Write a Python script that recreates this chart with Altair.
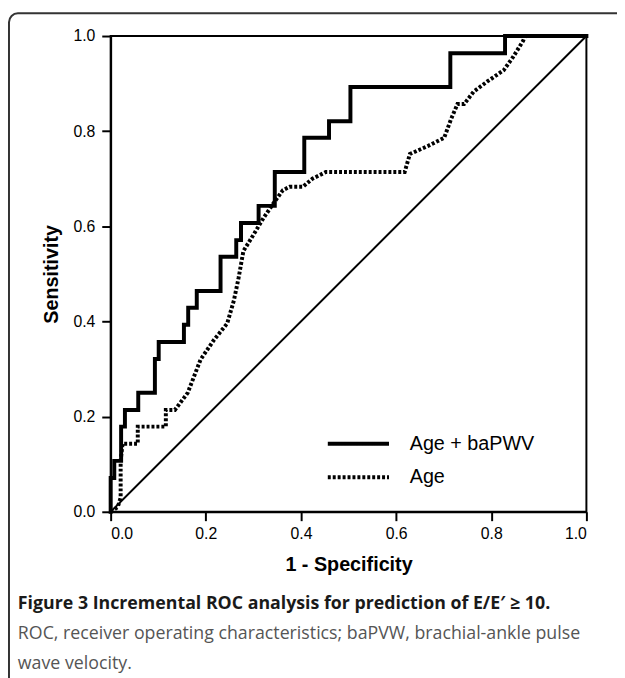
import altair as alt
import pandas as pd

# ROC curve: Age + baPWV (step curve; each point = where the curve rises)
combo_fpr = [0.0, 0.0, 0.0076, 0.022, 0.030, 0.058, 0.093, 0.101, 0.154, 0.163, 0.181,
             0.231, 0.264, 0.274, 0.311, 0.345, 0.407, 0.459, 0.504, 0.714, 0.829, 1.0]
combo_tpr = [0.0, 0.071, 0.107, 0.179, 0.214, 0.25, 0.321, 0.357, 0.393, 0.429, 0.464,
             0.536, 0.571, 0.607, 0.643, 0.714, 0.786, 0.821, 0.893, 0.964, 1.0, 1.0]

# ROC curve: Age
age_fpr = [0.0, 0.015, 0.021, 0.021, 0.025, 0.057, 0.057, 0.116, 0.116, 0.135, 0.162,
           0.189, 0.217, 0.245, 0.259, 0.269, 0.279, 0.300, 0.321, 0.342, 0.362, 0.376,
           0.404, 0.424, 0.452, 0.618, 0.629, 0.667, 0.701, 0.715, 0.729, 0.743, 0.763,
           0.791, 0.826, 0.846, 0.867, 0.871, 1.0]
age_tpr = [0.0, 0.01, 0.03, 0.107, 0.143, 0.143, 0.179, 0.179, 0.214, 0.214, 0.25,
           0.32, 0.361, 0.396, 0.444, 0.492, 0.548, 0.582, 0.617, 0.648, 0.676, 0.683,
           0.683, 0.70, 0.714, 0.714, 0.752, 0.769, 0.786, 0.824, 0.857, 0.857, 0.883,
           0.904, 0.928, 0.956, 0.99, 1.0, 1.0]

diag_x = [0.0, 1.0]
diag_y = [0.0, 1.0]

series_names = ["Age + baPWV", "Age"]
tick_values = [0.0, 0.2, 0.4, 0.6, 0.8, 1.0]

caption_title = "Figure 3 Incremental ROC analysis for prediction of E/E\u2032 \u2265 10."
caption_lines = ["ROC, receiver operating characteristics; baPVW, brachial-ankle pulse",
                 "wave velocity."]

combo_df = pd.DataFrame({"fpr": combo_fpr, "tpr": combo_tpr,
                         "series": series_names[0], "idx": range(len(combo_fpr))})
age_df = pd.DataFrame({"fpr": age_fpr, "tpr": age_tpr,
                       "series": series_names[1], "idx": range(len(age_fpr))})
diag_df = pd.DataFrame({"fpr": diag_x, "tpr": diag_y})

xscale = alt.Scale(domain=[0, 1], nice=False, zero=False)
yscale = alt.Scale(domain=[0, 1], nice=False, zero=False)

X = alt.X("fpr:Q", scale=xscale,
          axis=alt.Axis(values=tick_values, format=".1f", title="1 - Specificity",
                        labelPadding=5, titlePadding=13))
Y = alt.Y("tpr:Q", scale=yscale,
          axis=alt.Axis(values=tick_values, format=".1f", title="Sensitivity",
                        labelPadding=7, titlePadding=12))

dash = alt.StrokeDash(
    "series:N",
    scale=alt.Scale(domain=series_names, range=[[1, 0], [3, 2]]),
    legend=alt.Legend(orient="none", legendX=239, legendY=401, title=None,
                      symbolType="M-3.1,0H3.1", symbolSize=400, symbolStrokeWidth=4,
                      symbolStrokeColor="black", symbolFillColor="transparent",
                      labelFont="Liberation Sans",
                      labelFontSize=20, labelColor="black", labelOffset=40,
                      padding=0, rowPadding=12),
)

diag = alt.Chart(diag_df).mark_line(color="black", strokeWidth=2).encode(x=X, y=Y)

combo = alt.Chart(combo_df).mark_line(
    color="black", strokeWidth=4, interpolate="step-after", strokeJoin="miter",
    strokeCap="square"
).encode(x=X, y=Y, strokeDash=dash, order="idx:Q")

age = alt.Chart(age_df).mark_line(
    color="black", strokeWidth=4, strokeCap="butt"
).encode(x=X, y=Y, strokeDash=dash, order="idx:Q")

frame = alt.Chart(pd.DataFrame({"k": [0]})).mark_rect(
    fill=None, fillOpacity=0, stroke="#333333", strokeWidth=2, cornerRadius=9
).encode(x=alt.value(-103), x2=alt.value(540), y=alt.value(-23), y2=alt.value(660))

chart = alt.layer(frame, diag, age, combo).properties(
    width=482, height=482,
    autosize=alt.AutoSizeParams(type="none"),
    padding={"left": 104, "top": 24, "right": 31, "bottom": 164},
    title=alt.TitleParams(
        text=caption_title, subtitle=caption_lines, orient="bottom", anchor="start",
        frame="group", font="Open Sans", fontSize=18, fontWeight="bold", color="#1a1a1a",
        subtitleFont="Open Sans", subtitleFontSize=18, subtitleColor="#555555",
        subtitleFontWeight="normal", subtitleLineHeight=30, subtitlePadding=12,
        offset=-94, dx=-94, baseline="top",
    ),
).configure_axis(
    grid=False, domainColor="black", domainWidth=2, tickColor="black", tickWidth=2,
    tickSize=9, labelFont="Liberation Sans", labelFontSize=16, labelColor="black",
    titleFont="Liberation Sans", titleFontSize=20, titleFontWeight="bold",
    titleColor="black",
).configure_view(stroke="black", strokeWidth=2)

chart.save("out.html", embed_options={"renderer": "svg", "actions": False})
